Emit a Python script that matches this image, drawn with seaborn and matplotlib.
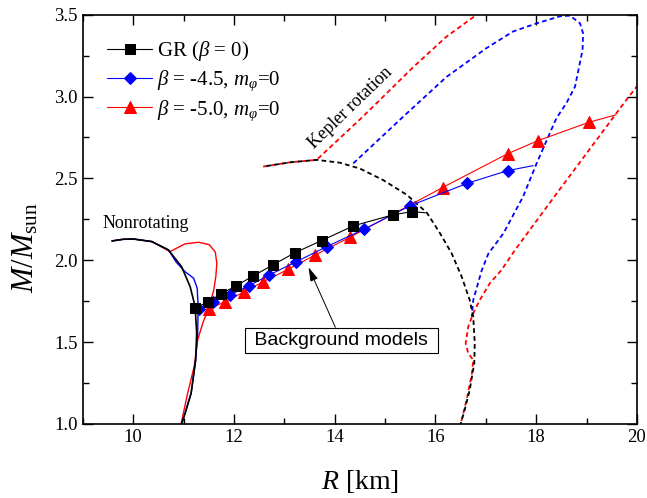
import numpy as np
import matplotlib
matplotlib.use("Agg")
import matplotlib.pyplot as plt
import seaborn as sns

# marker sequences (R in km, M in M_sun)
gr_R = [11.23, 11.49, 11.74, 12.04, 12.38, 12.77, 13.21, 13.74, 14.37, 15.15, 15.53, 15.80]
gr_M = [1.707, 1.747, 1.794, 1.843, 1.904, 1.971, 2.046, 2.120, 2.210, 2.277, 2.297, 2.290]
b45_R = [11.31, 11.59, 11.92, 12.29, 12.70, 13.23, 13.84, 14.59, 15.49, 16.63, 17.43, 17.94]
b45_M = [1.705, 1.747, 1.788, 1.843, 1.910, 1.990, 2.083, 2.191, 2.332, 2.470, 2.547, 2.578]
b50_R = [11.51, 11.82, 12.19, 12.58, 13.08, 13.61, 14.30, 16.14, 17.43, 18.03, 19.05, 19.58]
b50_M = [1.702, 1.747, 1.805, 1.869, 1.945, 2.032, 2.140, 2.444, 2.650, 2.730, 2.843, 2.888]

# nonrotating sequences
nr_gr_R = [9.58, 9.80, 10.00, 10.37, 10.70, 10.96, 11.13, 11.23, 11.26, 11.24, 11.15, 11.03, 10.95]
nr_gr_M = [2.118, 2.128, 2.130, 2.114, 2.063, 1.961, 1.839, 1.717, 1.554, 1.391, 1.188, 1.065, 0.99]
nr_b45_R = [9.58, 9.80, 10.00, 10.37, 10.70, 10.85, 11.03, 11.20, 11.27, 11.29, 11.28, 11.24, 11.15, 11.03, 10.95]
nr_b45_M = [2.118, 2.128, 2.130, 2.114, 2.063, 1.990, 1.930, 1.890, 1.830, 1.717, 1.554, 1.391, 1.188, 1.065, 0.99]
nr_b50_R = [9.58, 9.80, 10.00, 10.37, 10.73, 11.03, 11.30, 11.51, 11.63, 11.66, 11.64, 11.60,
            11.51, 11.38, 11.28, 11.21, 11.08, 10.95]
nr_b50_M = [2.118, 2.128, 2.130, 2.114, 2.053, 2.100, 2.110, 2.095, 2.050, 1.980, 1.900, 1.820,
            1.717, 1.615, 1.513, 1.350, 1.187, 1.0]

# Kepler (mass-shedding) sequences
kep_gr_R = [12.58, 13.11, 13.64, 14.10, 14.50, 14.96, 15.43, 15.83, 16.09, 16.32, 16.52, 16.68,
            16.75, 16.78, 16.77, 16.68, 16.58, 16.50]
kep_gr_M = [2.572, 2.598, 2.613, 2.596, 2.560, 2.490, 2.400, 2.290, 2.165, 2.043, 1.900, 1.757,
            1.655, 1.493, 1.371, 1.208, 1.086, 1.0]
kep_b45_R = [14.37, 14.85, 15.36, 16.22, 17.01, 17.54, 18.01, 18.47,
             18.67, 18.87, 18.93, 18.92, 18.77, 18.60, 18.40, 18.27, 18.01, 17.74, 17.35, 17.05,
             16.92, 16.75, 16.72]
kep_b45_M = [2.592, 2.730, 2.877, 3.120, 3.295, 3.397, 3.447, 3.490,
             3.494, 3.447, 3.386, 3.285, 3.060, 2.960, 2.867, 2.776, 2.593, 2.389, 2.165, 2.040,
             1.940, 1.757, 1.655]
kep_b50_up_R = [12.58, 13.11, 13.64, 14.50, 14.90, 15.56, 16.22, 16.82]
kep_b50_up_M = [2.572, 2.598, 2.613, 2.860, 2.980, 3.180, 3.366, 3.500]
kep_b50_lo_R = [20.02, 19.79, 19.13, 18.45, 17.58, 17.31, 17.08, 16.88, 16.75, 16.65, 16.60,
                16.65, 16.75, 16.72, 16.62, 16.50]
kep_b50_lo_M = [3.070, 2.980, 2.707, 2.426, 2.063, 1.940, 1.860, 1.757, 1.676, 1.594, 1.493,
                1.432, 1.391, 1.300, 1.150, 1.0]

sns.set_style("ticks")
plt.rcParams["font.family"] = ["Liberation Serif", "DejaVu Serif"]
plt.rcParams["mathtext.fontset"] = "custom"
plt.rcParams["mathtext.rm"] = "Liberation Serif"
plt.rcParams["mathtext.it"] = "Liberation Serif:italic"
plt.rcParams["mathtext.bf"] = "Liberation Serif:bold"
for k in ["text.color", "axes.labelcolor", "xtick.color", "ytick.color", "axes.edgecolor"]:
    plt.rcParams[k] = "black"

fig = plt.figure(figsize=(6.47, 4.98), dpi=100)
ax = fig.add_axes([0.128, 0.1486, 0.8565, 0.822])

dash = (0, (2.6, 1.8))
line_kw = dict(estimator=None, sort=False, ax=ax)

# nonrotating
sns.lineplot(x=nr_b50_R, y=nr_b50_M, color="red", lw=1.0, **line_kw)
sns.lineplot(x=nr_b45_R, y=nr_b45_M, color="blue", lw=1.0, **line_kw)
sns.lineplot(x=nr_gr_R, y=nr_gr_M, color="black", lw=1.2, **line_kw)

# Kepler
sns.lineplot(x=kep_b50_up_R, y=kep_b50_up_M, color="red", lw=1.3, linestyle=dash, **line_kw)
sns.lineplot(x=kep_b50_lo_R, y=kep_b50_lo_M, color="red", lw=1.3, linestyle=dash, **line_kw)
sns.lineplot(x=kep_b45_R, y=kep_b45_M, color="blue", lw=1.3, linestyle=dash, **line_kw)
sns.lineplot(x=kep_gr_R, y=kep_gr_M, color="black", lw=1.3, linestyle=(2.6, (2.6, 1.8)), **line_kw)

# background models
sns.lineplot(x=b50_R, y=b50_M, color="red", lw=0.8, marker="^", markersize=8, mec="red",
             markevery=list(range(len(b50_R) - 1)), label=r"$\beta$ = -5.0, $m_\varphi$=0", **line_kw)
sns.lineplot(x=b45_R, y=b45_M, color="blue", lw=0.8, marker="D", markersize=6.5, mec="blue",
             markevery=list(range(len(b45_R) - 1)), label=r"$\beta$ = -4.5, $m_\varphi$=0", **line_kw)
sns.lineplot(x=gr_R, y=gr_M, color="black", lw=0.8, marker="s", markersize=6.5, mec="black",
             markevery=list(range(len(gr_R) - 1)), label=r"GR ($\beta$ = 0)", **line_kw)

handles, labels = ax.get_legend_handles_labels()
ax.legend(handles[::-1], labels[::-1], loc="upper left", bbox_to_anchor=(0.0326, 0.955),
          frameon=False, fontsize=15, handlelength=2.16, handletextpad=0.24, labelspacing=0.25,
          borderpad=0.3, borderaxespad=0)

ax.text(10.24, 2.222, "Nonrotating", fontsize=13, ha="center", va="center")
ax.text(14.32, 2.93, "Kepler rotation", fontsize=13, ha="center", va="center", rotation=44)
ax.annotate(" Background models ", xy=(13.48, 1.957), xytext=(14.13, 1.51),
            fontsize=14, family="Liberation Sans", ha="center", va="center",
            bbox=dict(boxstyle="square,pad=0.22", fc="white", ec="black", lw=0.8),
            arrowprops=dict(arrowstyle="-|>,head_length=0.7,head_width=0.2", color="black",
                            lw=0.7, mutation_scale=12, shrinkA=0, shrinkB=0))

ax.set_xlim(9, 20)
ax.set_ylim(1.0, 3.5)
ax.set_xticks([10, 12, 14, 16, 18, 20])
ax.set_xticks(np.arange(9, 20.5, 1), minor=True)
ax.set_yticks([1.0, 1.5, 2.0, 2.5, 3.0, 3.5])
ax.set_yticks(np.arange(1.0, 3.6, 0.25), minor=True)
ax.yaxis.set_major_formatter(matplotlib.ticker.FormatStrFormatter("%.1f"))
ax.tick_params(which="both", direction="in", top=True, right=True, width=1.0, labelsize=13.5)
ax.tick_params(which="major", length=7)
ax.tick_params(which="minor", length=4.5)
for s in ax.spines.values():
    s.set_linewidth(1.2)

ax.set_xlabel(r"$R$ [km]", fontsize=20)
ax.set_ylabel(r"$M/M_{\rm sun}$", fontsize=22)
ax.xaxis.set_label_coords(0.5, -0.1075)
ax.yaxis.set_label_coords(-0.077, 0.43)

fig.savefig("out.png", dpi=100)
